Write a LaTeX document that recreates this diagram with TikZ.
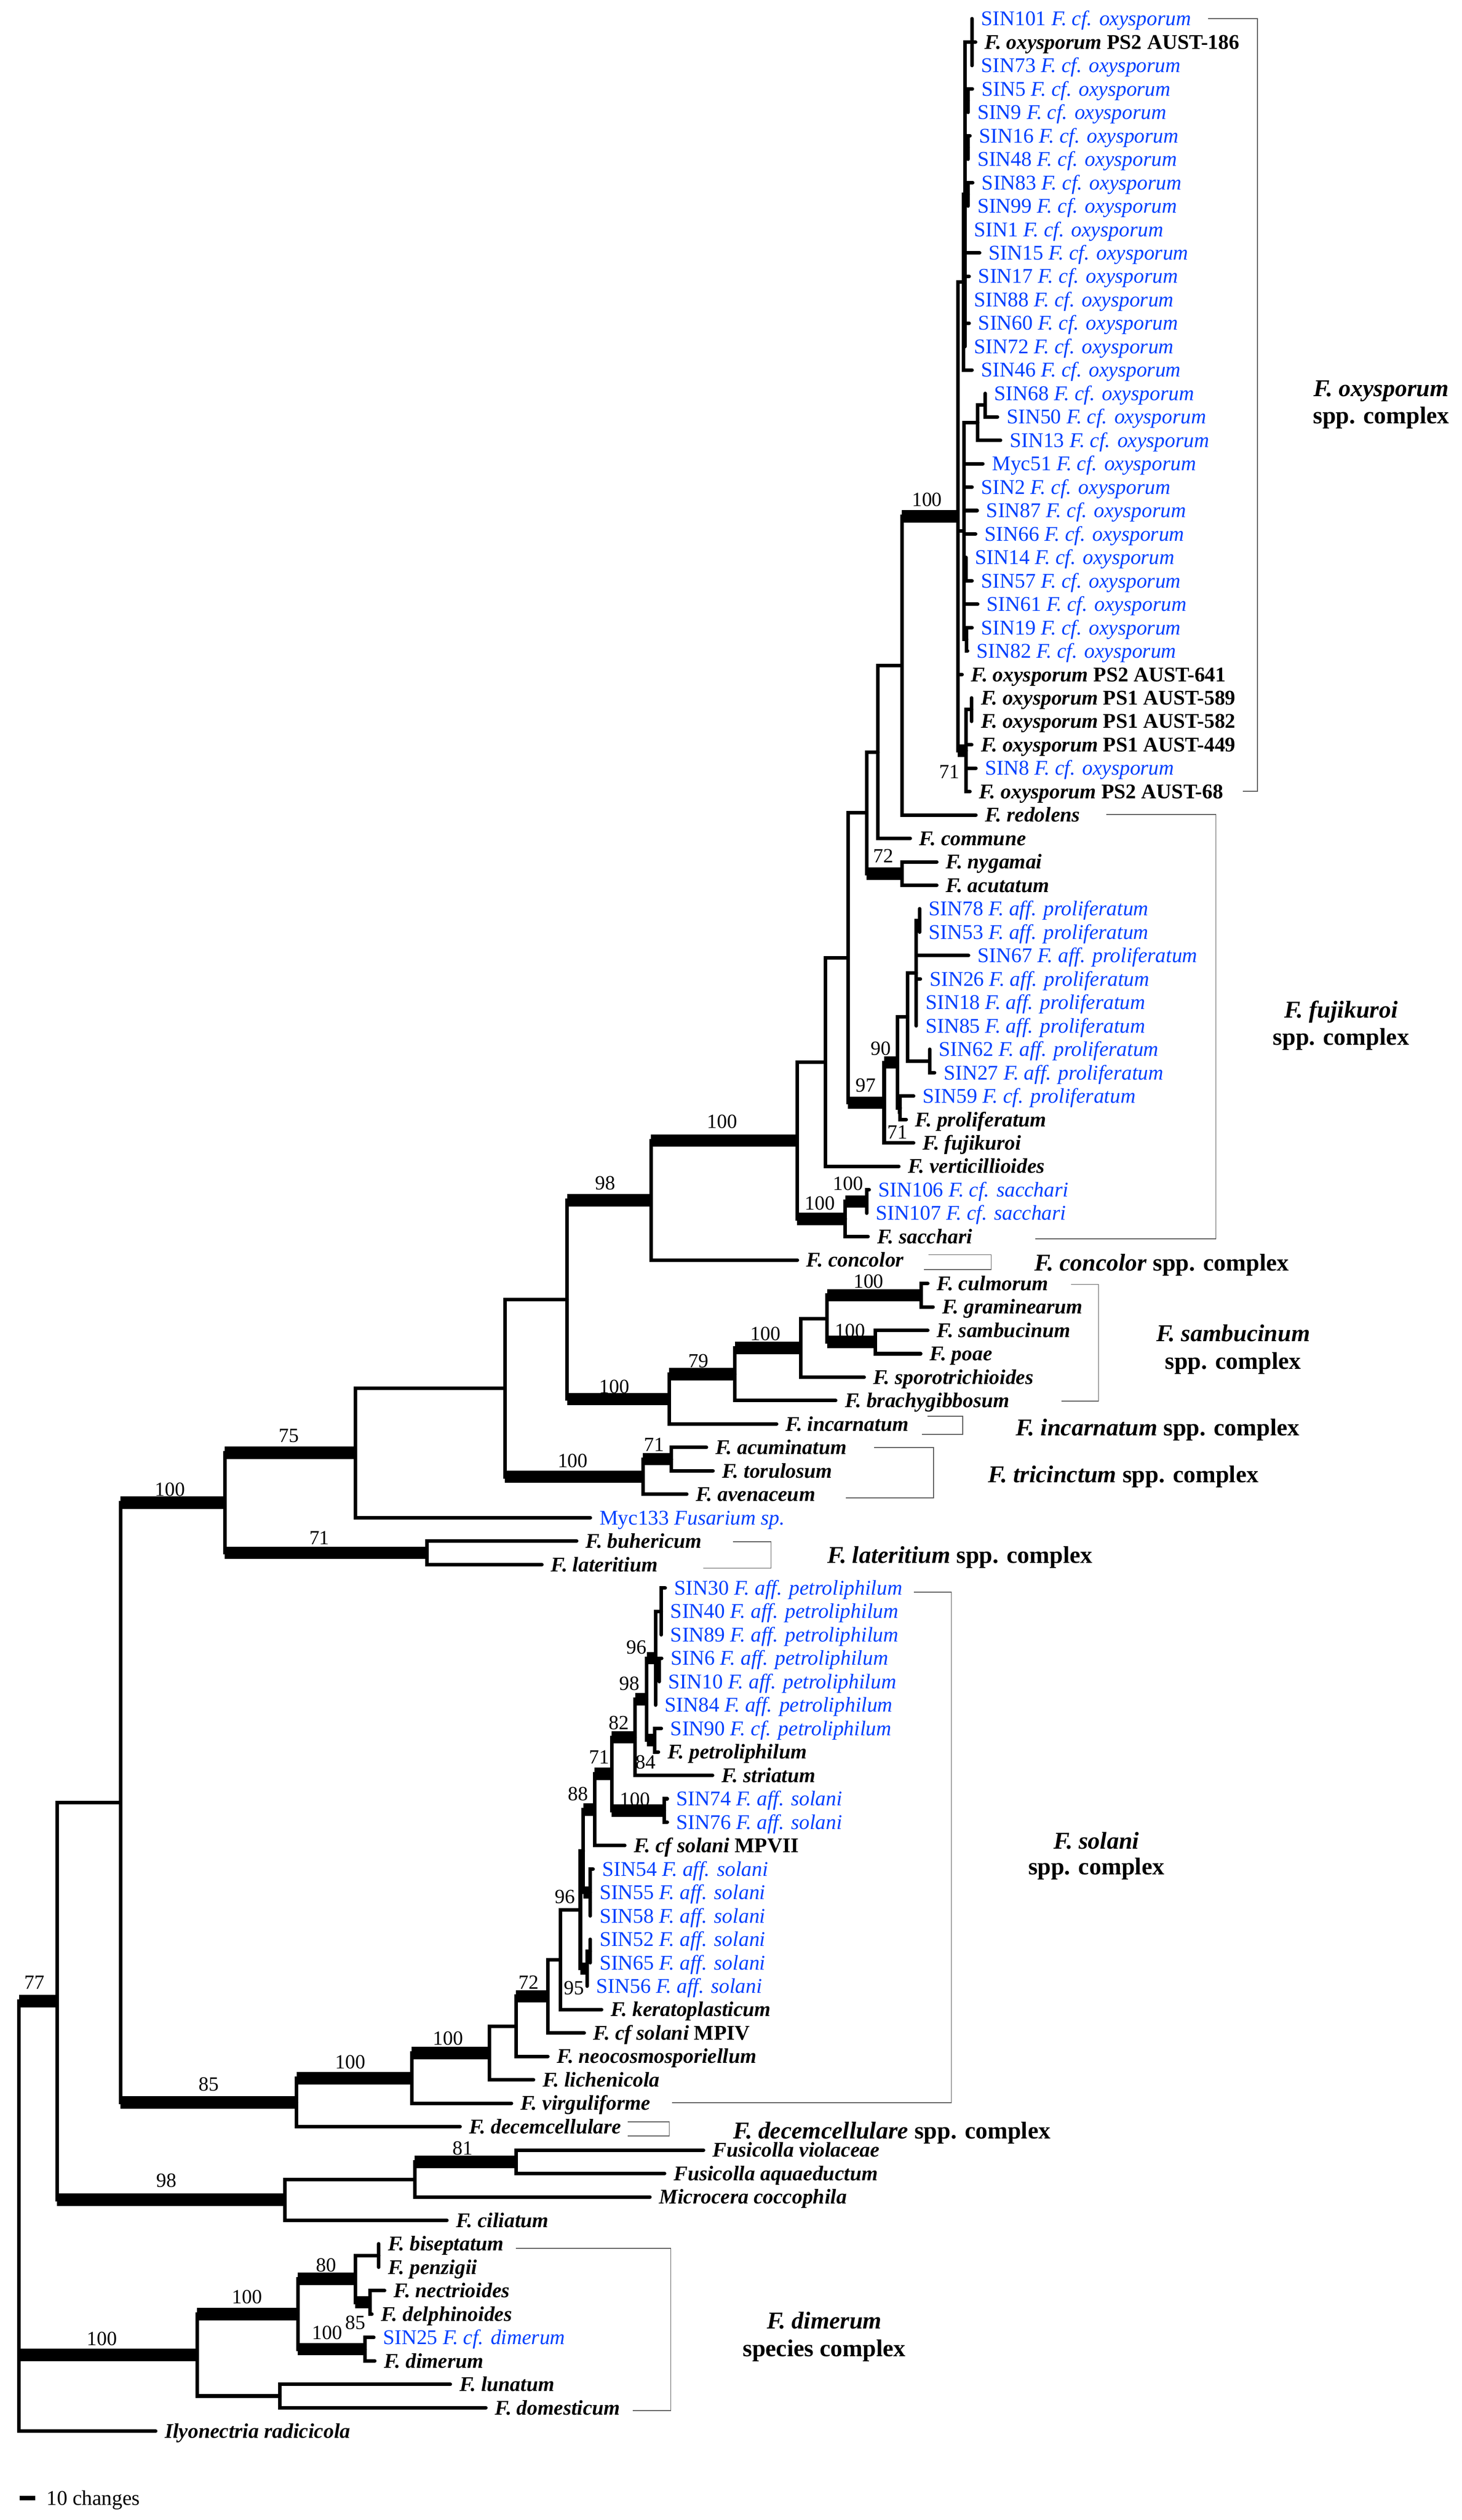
\documentclass[tikz,border=0pt]{standalone}
\usepackage{fontspec}
\setmainfont{Liberation Serif}
\usetikzlibrary{calc}
\definecolor{sinblue}{RGB}{0,64,255}
\newcommand\tipfont{\fontsize{13}{15}\selectfont}
\newcommand\supfont{\fontsize{12.5}{14}\selectfont}
\newcommand\cladefont{\fontsize{15}{17}\selectfont\bfseries}
\newcommand\sinl[2]{\textcolor{sinblue}{#1 \textit{#2}}}
\newcommand\blab[2]{\textbf{\textit{#1} #2}}
\newcommand\bilab[1]{\textbf{\textit{#1}}}
\newcommand\tipx[4]{\coordinate (#1) at (#2,{11.6+14.543*(#3-1)}); \node[lab] (#1L) at ([xshift=5.5pt,yshift=-4.3pt]#1) {#4};}
\newcommand\brn[2]{\draw[brl] (#1) |- (#2);}
\newcommand\brt[2]{\draw[brl] (#1) |- (#2); \draw[tk] (#1 |- #2) -- (#2);}
\begin{document}
\begin{tikzpicture}[x=1pt,y=-1pt,
  brl/.style={line width=2.2pt, line cap=round},
  tk/.style={line width=7.7pt, line cap=butt},
  lab/.style={anchor=base west, inner sep=0pt, font=\tipfont},
  sup/.style={inner sep=0pt, font=\supfont},
  brk/.style={line width=0.5pt, draw=black!65},
  cl/.style={inner sep=0pt, font=\cladefont}]
\fill[white] (0,0) rectangle (908,1564.7);
\useasboundingbox (0,0) rectangle (908,1564.7);
% ---------- tips ----------
\tipx{t1}{603.7}{1}{\sinl{SIN101}{F. cf. oxysporum}}
\tipx{t2}{606.0}{2}{\blab{F. oxysporum}{PS2 AUST-186}}
\tipx{t3}{603.7}{3}{\sinl{SIN73}{F. cf. oxysporum}}
\tipx{t4}{604.0}{4}{\sinl{SIN5}{F. cf. oxysporum}}
\tipx{t5}{601.4}{5}{\sinl{SIN9}{F. cf. oxysporum}}
\tipx{t6}{602.5}{6}{\sinl{SIN16}{F. cf. oxysporum}}
\tipx{t7}{601.4}{7}{\sinl{SIN48}{F. cf. oxysporum}}
\tipx{t8}{604.2}{8}{\sinl{SIN83}{F. cf. oxysporum}}
\tipx{t9}{601.4}{9}{\sinl{SIN99}{F. cf. oxysporum}}
\tipx{t10}{599.4}{10}{\sinl{SIN1}{F. cf. oxysporum}}
\tipx{t11}{608.5}{11}{\sinl{SIN15}{F. cf. oxysporum}}
\tipx{t12}{602.0}{12}{\sinl{SIN17}{F. cf. oxysporum}}
\tipx{t13}{599.4}{13}{\sinl{SIN88}{F. cf. oxysporum}}
\tipx{t14}{602.0}{14}{\sinl{SIN60}{F. cf. oxysporum}}
\tipx{t15}{599.4}{15}{\sinl{SIN72}{F. cf. oxysporum}}
\tipx{t16}{603.8}{16}{\sinl{SIN46}{F. cf. oxysporum}}
\tipx{t17}{612.0}{17}{\sinl{SIN68}{F. cf. oxysporum}}
\tipx{t18}{619.6}{18}{\sinl{SIN50}{F. cf. oxysporum}}
\tipx{t19}{621.5}{19}{\sinl{SIN13}{F. cf. oxysporum}}
\tipx{t20}{610.5}{20}{\sinl{Myc51}{F. cf. oxysporum}}
\tipx{t21}{603.8}{21}{\sinl{SIN2}{F. cf. oxysporum}}
\tipx{t22}{607.0}{22}{\sinl{SIN87}{F. cf. oxysporum}}
\tipx{t23}{606.0}{23}{\sinl{SIN66}{F. cf. oxysporum}}
\tipx{t24}{600.0}{24}{\sinl{SIN14}{F. cf. oxysporum}}
\tipx{t25}{603.8}{25}{\sinl{SIN57}{F. cf. oxysporum}}
\tipx{t26}{607.3}{26}{\sinl{SIN61}{F. cf. oxysporum}}
\tipx{t27}{603.8}{27}{\sinl{SIN19}{F. cf. oxysporum}}
\tipx{t28}{601.0}{28}{\sinl{SIN82}{F. cf. oxysporum}}
\tipx{t29}{597.6}{29}{\blab{F. oxysporum}{PS2 AUST-641}}
\tipx{t30}{603.6}{30}{\blab{F. oxysporum}{PS1 AUST-589}}
\tipx{t31}{603.6}{31}{\blab{F. oxysporum}{PS1 AUST-582}}
\tipx{t32}{603.6}{32}{\blab{F. oxysporum}{PS1 AUST-449}}
\tipx{t33}{606.2}{33}{\sinl{SIN8}{F. cf. oxysporum}}
\tipx{t34}{602.5}{34}{\blab{F. oxysporum}{PS2 AUST-68}}
\tipx{t35}{606.2}{35}{\bilab{F. redolens}}
\tipx{t36}{565.4}{36}{\bilab{F. commune}}
\tipx{t37}{581.9}{37}{\bilab{F. nygamai}}
\tipx{t38}{581.9}{38}{\bilab{F. acutatum}}
\tipx{t39}{571.2}{39}{\sinl{SIN78}{F. aff. proliferatum}}
\tipx{t40}{571.2}{40}{\sinl{SIN53}{F. aff. proliferatum}}
\tipx{t41}{601.6}{41}{\sinl{SIN67}{F. aff. proliferatum}}
\tipx{t42}{571.7}{42}{\sinl{SIN26}{F. aff. proliferatum}}
\tipx{t43}{569.2}{43}{\sinl{SIN18}{F. aff. proliferatum}}
\tipx{t44}{569.2}{44}{\sinl{SIN85}{F. aff. proliferatum}}
\tipx{t45}{577.5}{45}{\sinl{SIN62}{F. aff. proliferatum}}
\tipx{t46}{580.5}{46}{\sinl{SIN27}{F. aff. proliferatum}}
\tipx{t47}{567.5}{47}{\sinl{SIN59}{F. cf. proliferatum}}
\tipx{t48}{562.9}{48}{\bilab{F. proliferatum}}
\tipx{t49}{567.5}{49}{\bilab{F. fujikuroi}}
\tipx{t50}{558.3}{50}{\bilab{F. verticillioides}}
\tipx{t51}{539.9}{51}{\sinl{SIN106}{F. cf. sacchari}}
\tipx{t52}{538.4}{52}{\sinl{SIN107}{F. cf. sacchari}}
\tipx{t53}{539.2}{53}{\bilab{F. sacchari}}
\tipx{t54}{495.3}{54}{\bilab{F. concolor}}
\tipx{t55}{576.3}{55}{\bilab{F. culmorum}}
\tipx{t56}{579.6}{56}{\bilab{F. graminearum}}
\tipx{t57}{576.3}{57}{\bilab{F. sambucinum}}
\tipx{t58}{571.9}{58}{\bilab{F. poae}}
\tipx{t59}{536.8}{59}{\bilab{F. sporotrichioides}}
\tipx{t60}{519.1}{60}{\bilab{F. brachygibbosum}}
\tipx{t61}{482.4}{61}{\bilab{F. incarnatum}}
\tipx{t62}{438.8}{62}{\bilab{F. acuminatum}}
\tipx{t63}{442.9}{63}{\bilab{F. torulosum}}
\tipx{t64}{426.6}{64}{\bilab{F. avenaceum}}
\tipx{t65}{366.7}{65}{\sinl{Myc133}{Fusarium sp.}}
\tipx{t66}{358.2}{66}{\bilab{F. buhericum}}
\tipx{t67}{336.6}{67}{\bilab{F. lateritium}}
\tipx{t68}{413.2}{68}{\sinl{SIN30}{F. aff. petroliphilum}}
\tipx{t69}{410.8}{69}{\sinl{SIN40}{F. aff. petroliphilum}}
\tipx{t70}{410.8}{70}{\sinl{SIN89}{F. aff. petroliphilum}}
\tipx{t71}{411.0}{71}{\sinl{SIN6}{F. aff. petroliphilum}}
\tipx{t72}{409.5}{72}{\sinl{SIN10}{F. aff. petroliphilum}}
\tipx{t73}{407.2}{73}{\sinl{SIN84}{F. aff. petroliphilum}}
\tipx{t74}{410.8}{74}{\sinl{SIN90}{F. cf. petroliphilum}}
\tipx{t75}{409.0}{75}{\bilab{F. petroliphilum}}
\tipx{t76}{442.6}{76}{\bilab{F. striatum}}
\tipx{t77}{414.5}{77}{\sinl{SIN74}{F. aff. solani}}
\tipx{t78}{414.5}{78}{\sinl{SIN76}{F. aff. solani}}
\tipx{t79}{388.1}{79}{\blab{F. cf solani}{MPVII}}
\tipx{t80}{368.4}{80}{\sinl{SIN54}{F. aff. solani}}
\tipx{t81}{366.7}{81}{\sinl{SIN55}{F. aff. solani}}
\tipx{t82}{366.7}{82}{\sinl{SIN58}{F. aff. solani}}
\tipx{t83}{366.7}{83}{\sinl{SIN52}{F. aff. solani}}
\tipx{t84}{366.7}{84}{\sinl{SIN65}{F. aff. solani}}
\tipx{t85}{364.7}{85}{\sinl{SIN56}{F. aff. solani}}
\tipx{t86}{373.7}{86}{\bilab{F. keratoplasticum}}
\tipx{t87}{362.9}{87}{\blab{F. cf solani}{MPIV}}
\tipx{t88}{340.3}{88}{\bilab{F. neocosmosporiellum}}
\tipx{t89}{331.4}{89}{\bilab{F. lichenicola}}
\tipx{t90}{317.7}{90}{\bilab{F. virguliforme}}
\tipx{t91}{285.8}{91}{\bilab{F. decemcellulare}}
\tipx{t92}{437.0}{92}{\bilab{Fusicolla violaceae}}
\tipx{t93}{412.8}{93}{\bilab{Fusicolla aquaeductum}}
\tipx{t94}{403.7}{94}{\bilab{Microcera coccophila}}
\tipx{t95}{277.6}{95}{\bilab{F. ciliatum}}
\tipx{t96}{235.3}{96}{\bilab{F. biseptatum}}
\tipx{t97}{235.3}{97}{\bilab{F. penzigii}}
\tipx{t98}{238.9}{98}{\bilab{F. nectrioides}}
\tipx{t99}{231.0}{99}{\bilab{F. delphinoides}}
\tipx{t100}{232.2}{100}{\sinl{SIN25}{F. cf. dimerum}}
\tipx{t101}{232.8}{101}{\bilab{F. dimerum}}
\tipx{t102}{279.7}{102}{\bilab{F. lunatum}}
\tipx{t103}{301.8}{103}{\bilab{F. domesticum}}
\tipx{t104}{96.7}{104}{\bilab{Ilyonectria radicicola}}
% ---------- internal nodes ----------
\coordinate (oTrio) at (603.7,26.15);
\coordinate (o59) at (601.4,62.5);
\coordinate (o1648) at (601.4,91.6);
\coordinate (o8399) at (601.4,120.65);
\coordinate (oA) at (599.4,120.7);
\coordinate (oTop) at (598.6,175.2);
\coordinate (n68) at (612.0,251.55);
\coordinate (n13) at (607.4,262.5);
\coordinate (o1457) at (600.0,353.35);
\coordinate (o1982) at (600.5,397.0);
\coordinate (nMid) at (598.8,329.75);
\coordinate (oPS) at (603.6,440.6);
\coordinate (n71o) at (600.2,466.05);
\coordinate (nB) at (595.0,320.6);
\coordinate (nRed) at (560.2,413.35);
\coordinate (nCom) at (545.4,466.98);
\coordinate (n72) at (560.2,542.4);
\coordinate (n72a) at (538.4,504.7);
\coordinate (p7853) at (571.2,571.5);
\coordinate (p78g) at (569.2,604.2);
\coordinate (p6227) at (577.5,658.75);
\coordinate (pProl) at (563.8,631.5);
\coordinate (p71) at (559.2,687.85);
\coordinate (n90) at (557.5,659.7);
\coordinate (n97) at (549.2,684.7);
\coordinate (nFus) at (526.8,594.7);
\coordinate (nVert) at (512.6,659.45);
\coordinate (nSS) at (538.4,746.0);
\coordinate (nS) at (525.1,756.9);
\coordinate (nT100) at (495.2,708.2);
\coordinate (n98) at (404.4,745.3);
\coordinate (nCG) at (572.2,804.2);
\coordinate (nSP) at (543.6,833.25);
\coordinate (nSam2) at (513.7,818.7);
\coordinate (n100b) at (497.3,836.9);
\coordinate (n79) at (456.5,853.25);
\coordinate (nSamc) at (415.7,868.7);
\coordinate (nA) at (352.3,807.0);
\coordinate (n71t) at (417.1,906.0);
\coordinate (nTri) at (399.4,916.9);
\coordinate (nBB) at (313.7,861.95);
\coordinate (n75) at (220.7,902.1);
\coordinate (n71lat) at (265.1,964.15);
\coordinate (nC) at (139.7,933.1);
\coordinate (s3040) at (410.8,1000.55);
\coordinate (s610) at (409.5,1036.85);
\coordinate (n96) at (407.2,1029.6);
\coordinate (n84) at (406.6,1080.5);
\coordinate (n98s) at (401.7,1055.05);
\coordinate (n82) at (394.5,1078.7);
\coordinate (n10074) at (412.7,1124.15);
\coordinate (n71s) at (380.0,1101.4);
\coordinate (n88) at (369.4,1123.65);
\coordinate (c54) at (366.7,1175.05);
\coordinate (nX) at (362.3,1149.35);
\coordinate (c5265) at (366.7,1211.4);
\coordinate (n95) at (364.7,1222.3);
\coordinate (nY) at (360.5,1185.8);
\coordinate (nK) at (348.1,1216.75);
\coordinate (nM) at (340.3,1239.5);
\coordinate (nN) at (320.6,1258.15);
\coordinate (nP) at (304.0,1274.8);
\coordinate (nQ) at (255.8,1290.35);
\coordinate (nR) at (184.2,1305.4);
\coordinate (nT) at (74.8,1119.25);
\coordinate (n81) at (320.5,1342.25);
\coordinate (nW) at (257.6,1353.2);
\coordinate (n98b) at (176.9,1365.9);
\coordinate (nU) at (35.4,1242.6);
\coordinate (nBP) at (235.3,1400.45);
\coordinate (n85) at (229.8,1429.55);
\coordinate (n80) at (220.7,1415.0);
\coordinate (n100dim) at (226.8,1458.6);
\coordinate (n100d2) at (185.1,1436.8);
\coordinate (nLD) at (173.9,1487.7);
\coordinate (nD) at (122.5,1462.25);
\coordinate (root) at (11.8,1376.05);
% ---------- branches: oxysporum ----------
\brn{oTrio}{t1}\brn{oTrio}{t2}\brn{oTrio}{t3}
\brn{o59}{t4}\brn{o59}{t5}
\brn{o1648}{t6}\brn{o1648}{t7}
\brn{o8399}{t8}\brn{o8399}{t9}
\brn{oA}{oTrio}\brn{oA}{o59}\brn{oA}{o1648}\brn{oA}{o8399}
\brn{oA}{t10}\brn{oA}{t11}\brn{oA}{t12}\brn{oA}{t13}\brn{oA}{t14}\brn{oA}{t15}
\brn{oTop}{oA}\brn{oTop}{t16}
\brn{n68}{t17}\brn{n68}{t18}
\brn{n13}{n68}\brn{n13}{t19}
\brn{o1457}{t24}\brn{o1457}{t25}
\brn{o1982}{t27}\brn{o1982}{t28}
\brn{nMid}{n13}\brn{nMid}{t20}\brn{nMid}{t21}\brn{nMid}{t22}\brn{nMid}{t23}
\brn{nMid}{o1457}\brn{nMid}{t26}\brn{nMid}{o1982}
\brn{oPS}{t30}\brn{oPS}{t31}
\brn{n71o}{oPS}\brn{n71o}{t32}\brn{n71o}{t33}\brn{n71o}{t34}
\brn{nB}{oTop}\brn{nB}{nMid}\brn{nB}{t29}\brt{nB}{n71o}
\brt{nRed}{nB}\brn{nRed}{t35}
\brn{nCom}{nRed}\brn{nCom}{t36}
\brn{n72}{t37}\brn{n72}{t38}
\brn{n72a}{nCom}\brt{n72a}{n72}
% ---------- fujikuroi ----------
\brn{p7853}{t39}\brn{p7853}{t40}
\brn{p78g}{p7853}\brn{p78g}{t41}\brn{p78g}{t42}\brn{p78g}{t43}\brn{p78g}{t44}
\brn{p6227}{t45}\brn{p6227}{t46}
\brn{pProl}{p78g}\brn{pProl}{p6227}
\brn{p71}{t47}\brn{p71}{t48}
\brn{n90}{pProl}\brt{n90}{p71}
\brt{n97}{n90}\brn{n97}{t49}
\brn{nFus}{n72a}\brt{nFus}{n97}
\brn{nVert}{nFus}\brn{nVert}{t50}
\brn{nSS}{t51}\brn{nSS}{t52}
\brt{nS}{nSS}\brn{nS}{t53}
\brn{nT100}{nVert}\brt{nT100}{nS}
\brt{n98}{nT100}\brn{n98}{t54}
% ---------- sambucinum / incarnatum ----------
\brn{nCG}{t55}\brn{nCG}{t56}
\brn{nSP}{t57}\brn{nSP}{t58}
\brt{nSam2}{nCG}\brt{nSam2}{nSP}
\brn{n100b}{nSam2}\brn{n100b}{t59}
\brt{n79}{n100b}\brn{n79}{t60}
\brt{nSamc}{n79}\brn{nSamc}{t61}
\brt{nA}{n98}\brt{nA}{nSamc}
% ---------- tricinctum / lateritium ----------
\brn{n71t}{t62}\brn{n71t}{t63}
\brt{nTri}{n71t}\brn{nTri}{t64}
\brn{nBB}{nA}\brt{nBB}{nTri}
\brn{n75}{nBB}\brn{n75}{t65}
\brn{n71lat}{t66}\brn{n71lat}{t67}
\brt{nC}{n75}\brt{nC}{n71lat}
% ---------- solani ----------
\brn{s3040}{t68}\brn{s3040}{t69}\brn{s3040}{t70}
\brn{s610}{t71}\brn{s610}{t72}
\brn{n96}{s3040}\brn{n96}{s610}\brn{n96}{t73}
\brn{n84}{t74}\brn{n84}{t75}
\brt{n98s}{n96}\brt{n98s}{n84}
\brt{n82}{n98s}\brn{n82}{t76}
\brn{n10074}{t77}\brn{n10074}{t78}
\brt{n71s}{n82}\brt{n71s}{n10074}
\brt{n88}{n71s}\brn{n88}{t79}
\brn{c54}{t80}\brn{c54}{t81}\brn{c54}{t82}
\brt{nX}{n88}\brt{nX}{c54}
\brn{c5265}{t83}\brn{c5265}{t84}
\brn{n95}{c5265}\brn{n95}{t85}
\brn{nY}{nX}\brt{nY}{n95}
\brn{nK}{nY}\brn{nK}{t86}
\brn{nM}{nK}\brn{nM}{t87}
\brt{nN}{nM}\brn{nN}{t88}
\brn{nP}{nN}\brn{nP}{t89}
\brt{nQ}{nP}\brn{nQ}{t90}
\brt{nR}{nQ}\brn{nR}{t91}
\brt{nT}{nC}\brt{nT}{nR}
% ---------- Fusicolla ----------
\brn{n81}{t92}\brn{n81}{t93}
\brt{nW}{n81}\brn{nW}{t94}
\brn{n98b}{nW}\brn{n98b}{t95}
\brn{nU}{nT}\brt{nU}{n98b}
% ---------- dimerum ----------
\brn{nBP}{t96}\brn{nBP}{t97}
\brn{n85}{t98}\brn{n85}{t99}
\brn{n80}{nBP}\brt{n80}{n85}
\brn{n100dim}{t100}\brn{n100dim}{t101}
\brt{n100d2}{n80}\brt{n100d2}{n100dim}
\brn{nLD}{t102}\brn{nLD}{t103}
\brt{nD}{n100d2}\brn{nD}{nLD}
\brt{root}{nU}\brt{root}{nD}\brn{root}{t104}
% ---------- support values ----------
\node[sup] (s1) at (575.8,310.3) {100};
\node[sup] (s2) at (589.7,479.2) {71};
\node[sup] (s3) at (548.8,531.3) {72};
\node[sup] (s4) at (547.2,650.9) {90};
\node[sup] (s5) at (537.9,673.9) {97};
\node[sup] (s6) at (557.5,703.0) {71};
\node[sup] (s7) at (526.8,735.0) {100};
\node[sup] (s8) at (509.3,747.0) {100};
\node[sup] (s9) at (448.6,696.4) {100};
\node[sup] (s10) at (375.9,734.5) {98};
\node[sup] (s11) at (539.5,795.7) {100};
\node[sup] (s12) at (528.1,826.3) {100};
\node[sup] (s13) at (475.6,828.3) {100};
\node[sup] (s14) at (433.9,845.1) {79};
\node[sup] (s15) at (381.7,861.0) {100};
\node[sup] (s16) at (406.2,897.0) {71};
\node[sup] (s17) at (355.8,906.9) {100};
\node[sup] (s18) at (179.4,891.5) {75};
\node[sup] (s19) at (105.7,924.8) {100};
\node[sup] (s20) at (198.4,955.0) {71};
\node[sup] (s21) at (395.4,1022.8) {96};
\node[sup] (s22) at (390.9,1045.3) {98};
\node[sup] (s23) at (400.9,1094.1) {84};
\node[sup] (s24) at (384.5,1069.7) {82};
\node[sup] (s25) at (372.2,1090.9) {71};
\node[sup] (s26) at (394.5,1117.2) {100};
\node[sup] (s27) at (359.1,1114.0) {88};
\node[sup] (s28) at (350.9,1177.7) {96};
\node[sup] (s29) at (356.6,1234.5) {95};
\node[sup] (s30) at (328.5,1230.9) {72};
\node[sup] (s31) at (278.4,1265.7) {100};
\node[sup] (s32) at (217.7,1280.3) {100};
\node[sup] (s33) at (129.7,1294.1) {85};
\node[sup] (s34) at (287.3,1334.0) {81};
\node[sup] (s35) at (103.4,1353.9) {98};
\node[sup] (s36) at (21.4,1230.8) {77};
\node[sup] (s37) at (63.5,1452.3) {100};
\node[sup] (s38) at (153.6,1426.1) {100};
\node[sup] (s39) at (202.6,1406.6) {80};
\node[sup] (s40) at (203.2,1448.4) {100};
\node[sup] (s41) at (220.7,1442.0) {85};
% ---------- brackets ----------
\coordinate (bo1) at (750.4,11.6); \coordinate (bo2) at (781,11.6);
\coordinate (bo3) at (781,491.3); \coordinate (bo4) at (772,491.3);
\draw[brk] (bo1) -- (bo2) -- (bo3) -- (bo4);
\coordinate (bf1) at (687.1,505.7); \coordinate (bf2) at (755.3,505.7);
\coordinate (bf3) at (755.3,769.2); \coordinate (bf4) at (643.2,769.2);
\draw[brk] (bf1) -- (bf2) -- (bf3) -- (bf4);
\coordinate (bc1) at (576.8,779.1); \coordinate (bc2) at (615.7,779.1);
\coordinate (bc3) at (615.7,788.2); \coordinate (bc4) at (574,788.2);
\draw[brk] (bc1) -- (bc2) -- (bc3) -- (bc4);
\coordinate (bs1) at (665.3,797.5); \coordinate (bs2) at (682.4,797.5);
\coordinate (bs3) at (682.4,869.9); \coordinate (bs4) at (659.3,869.9);
\draw[brk] (bs1) -- (bs2) -- (bs3) -- (bs4);
\coordinate (bi1) at (576.2,879.4); \coordinate (bi2) at (598.1,879.4);
\coordinate (bi3) at (598.1,890.7); \coordinate (bi4) at (572.6,890.7);
\draw[brk] (bi1) -- (bi2) -- (bi3) -- (bi4);
\coordinate (bt1) at (542.8,898.7); \coordinate (bt2) at (579.8,898.7);
\coordinate (bt3) at (579.8,930.1); \coordinate (bt4) at (525.4,930.1);
\draw[brk] (bt1) -- (bt2) -- (bt3) -- (bt4);
\coordinate (bl1) at (455.2,957.2); \coordinate (bl2) at (478.9,957.2);
\coordinate (bl3) at (478.9,973.7); \coordinate (bl4) at (436.9,973.7);
\draw[brk] (bl1) -- (bl2) -- (bl3) -- (bl4);
\coordinate (bn1) at (567.8,988.5); \coordinate (bn2) at (591,988.5);
\coordinate (bn3) at (591,1305.5); \coordinate (bn4) at (417.5,1305.5);
\draw[brk] (bn1) -- (bn2) -- (bn3) -- (bn4);
\coordinate (bd1) at (390,1317.4); \coordinate (bd2) at (415.7,1317.4);
\coordinate (bd3) at (415.7,1326.2); \coordinate (bd4) at (390,1326.2);
\draw[brk] (bd1) -- (bd2) -- (bd3) -- (bd4);
\coordinate (bm1) at (320.5,1396); \coordinate (bm2) at (416.7,1396);
\coordinate (bm3) at (416.7,1496.8); \coordinate (bm4) at (393.1,1496.8);
\draw[brk] (bm1) -- (bm2) -- (bm3) -- (bm4);
% ---------- clade labels ----------
\node[cl, anchor=base] (cOxy1) at (858,246) {\textit{F. oxysporum}};
\node[cl, anchor=base] (cOxy2) at (858,263) {spp. complex};
\node[cl, anchor=base] (cFuj1) at (833,632) {\textit{F. fujikuroi}};
\node[cl, anchor=base] (cFuj2) at (833,649) {spp. complex};
\node[cl, anchor=base west] (cCon) at (642.4,789) {\textit{F. concolor} spp. complex};
\node[cl, anchor=base] (cSam1) at (766,833) {\textit{F. sambucinum}};
\node[cl, anchor=base] (cSam2) at (766,850) {spp. complex};
\node[cl, anchor=base west] (cInc) at (630.7,891.5) {\textit{F. incarnatum} spp. complex};
\node[cl, anchor=base west] (cTri) at (613.6,920.5) {\textit{F. tricinctum} spp. complex};
\node[cl, anchor=base west] (cLat) at (513.7,970.5) {\textit{F. lateritium} spp. complex};
\node[cl, anchor=base] (cSol1) at (681,1148) {\textit{F. solani}};
\node[cl, anchor=base] (cSol2) at (681,1164) {spp. complex};
\node[cl, anchor=base west] (cDec) at (455.2,1328) {\textit{F. decemcellulare} spp. complex};
\node[cl, anchor=base] (cDim1) at (512,1446) {\textit{F. dimerum}};
\node[cl, anchor=base] (cDim2) at (512,1463) {species complex};
% ---------- scale bar ----------
\coordinate (sb1) at (12.1,1551.1); \coordinate (sb2) at (21.8,1551.1);
\draw[line width=2.6pt] (sb1) -- (sb2);
\node[lab] (sbL) at (28.7,1555.4) {10 changes};
\end{tikzpicture}
\end{document}
